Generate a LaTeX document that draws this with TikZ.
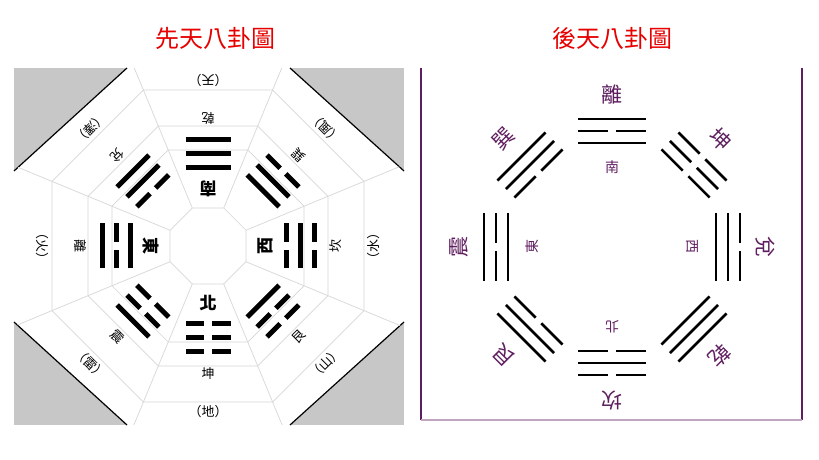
\documentclass[tikz,border=0pt]{standalone}
\usetikzlibrary{calc}
\usepackage{fontspec}
\newfontfamily\cjk{Noto Sans CJK TC}
\definecolor{pur}{RGB}{95,30,95}
\definecolor{ttl}{RGB}{230,0,0}
\definecolor{ringc}{RGB}{215,215,215}
\newcommand\tri[7]{% center, angle, bits(inner->outer), style, inner dist, step, halflen
 \begin{scope}[shift={#1},rotate=#2-90]
 \edef\bitlist{#3}
 \foreach \b [count=\i] in \bitlist {
  \pgfmathsetmacro\d{#5+(\i-1)*#6}
  \ifnum\b=1 \draw[#4] (-#7,\d)--(#7,\d);
  \else \draw[#4] (-#7,\d)--(-\gp,\d); \draw[#4] (\gp,\d)--(#7,\d); \fi
 }
 \end{scope}}
\begin{document}
\begin{tikzpicture}[x=1pt,y=1pt,
 lt/.style={font=\cjk\fontsize{13}{13}\selectfont,inner sep=0},
 ld/.style={font=\cjk\fontsize{17}{17}\selectfont\bfseries,inner sep=0},
 rn/.style={font=\cjk\fontsize{21}{21}\selectfont,text=pur,inner sep=0},
 rd/.style={font=\cjk\fontsize{14}{14}\selectfont,text=pur,inner sep=0},
 ttlst/.style={font=\cjk\fontsize{24}{24}\selectfont,text=ttl},
 lbar/.style={line width=5pt,black},
 rbar/.style={line width=2.6pt,black}]
\useasboundingbox (0,0) rectangle (819,460);
\node[ttlst] (t1) at (215,422) {先天八卦圖};
\node[ttlst] (t2) at (612,422) {後天八卦圖};
% left panel
\fill[black!22] (14,35) rectangle (404,392);
\path[fill=white] (127,392)--(290,392)--(404,289)--(404,138)--(290,35)--(127,35)--(14,138)--(14,289)--cycle;
\draw[line width=1.2pt] (290,392)--(404,289) (404,138)--(290,35) (127,35)--(14,138) (14,289)--(127,392);
\coordinate (cL) at (208,214);
\begin{scope}
\clip (127,392)--(290,392)--(404,289)--(404,138)--(290,35)--(127,35)--(14,138)--(14,289)--cycle;
\foreach \a in {38,96,120,156}{
 \draw[ringc,line width=0.7pt] ($(cL)+(22.5:\a*1.0824)$) \foreach \k in {1,...,7}{ -- ($(cL)+(22.5+45*\k:\a*1.0824)$)} -- cycle;}
\foreach \k in {0,...,7}{\draw[ringc,line width=0.7pt] ($(cL)+(22.5+45*\k:41.1)$) -- ($(cL)+(22.5+45*\k:260)$);}
\end{scope}
\def\gp{4}
\foreach \ang/\bits/\dir/\nm/\ou in {90/{1,1,1}/南/乾/天, 45/{1,1,0}//巽/風, 0/{0,1,0}/西/坎/水, -45/{1,0,0}//艮/山, -90/{0,0,0}/北/坤/地, -135/{0,0,1}//震/雷, 180/{1,0,1}/東/離/火, 135/{0,1,1}//兌/澤}{
 \tri{(cL)}{\ang}{\bits}{lbar}{78}{14}{22.5}
 \node[ld,rotate=\ang+90] at ($(cL)+(\ang:57)$) {\dir};
 \node[lt,rotate=\ang+90] at ($(cL)+(\ang:128)$) {\nm};
 \node[lt,rotate=\ang+90] at ($(cL)+(\ang:166)$) {（\ou）};
}
% right panel
\draw[pur,line width=1.8pt] (421,392)--(421,40) (802,40)--(802,392);
\draw[pur!40,line width=1.2pt] (421,40)--(802,40);
\coordinate (cR) at (612,213);
\foreach \ang/\bits/\dir/\nm in {90/{1,0,1}/南/離, 45/{0,0,0}//坤, 0/{1,1,0}/西/兌, -45/{1,1,1}//乾, -90/{0,1,0}/北/坎, -135/{0,1,1}//艮, 180/{1,0,1}/東/震, 135/{0,1,1}//巽}{
 \tri{(cR)}{\ang}{\bits}{rbar}{104}{12}{34}
 \node[rd,rotate=\ang-90] at ($(cR)+(\ang:80)$) {\dir};
 \node[rn,rotate=\ang-90] at ($(cR)+(\ang:153)$) {\nm};
}
\end{tikzpicture}
\end{document}
